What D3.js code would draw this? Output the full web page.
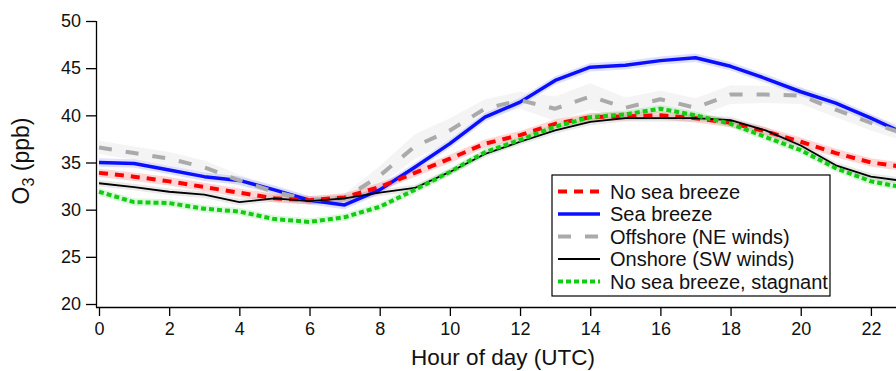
<!DOCTYPE html>
<html>
<head>
<meta charset="utf-8">
<script src="https://cdn.jsdelivr.net/npm/d3@7"></script>
<style>
  body { margin: 0; background: #fff; }
  svg { display: block; font-family: "Liberation Sans", Arial, sans-serif; }
</style>
</head>
<body>
<svg id="chart" width="896" height="371"></svg>
<script>
// hours of day (UTC)
var hours = d3.range(0, 24);
var xTicks = [0, 2, 4, 6, 8, 10, 12, 14, 16, 18, 20, 22];
var yTicks = [20, 25, 30, 35, 40, 45, 50];

// mean O3 (ppb) per hour
var noSeaBreeze = [33.9, 33.5, 33.0, 32.4, 31.8, 31.2, 31.0, 31.3, 32.4, 33.9, 35.4, 37.0,
                   37.9, 39.1, 39.8, 39.9, 40.0, 39.7, 39.2, 38.3, 37.2, 36.0, 35.0, 34.5];
var seaBreeze   = [35.0, 34.9, 34.2, 33.5, 33.1, 32.1, 31.0, 30.5, 32.1, 34.5, 37.0, 39.8,
                   41.4, 43.7, 45.1, 45.3, 45.8, 46.1, 45.2, 43.9, 42.5, 41.3, 39.7, 38.0];
var offshore    = [36.6, 36.0, 35.4, 34.5, 33.1, 31.9, 31.0, 31.2, 33.6, 36.7, 38.4, 40.7,
                   41.6, 40.7, 42.0, 40.8, 41.7, 40.8, 42.2, 42.2, 42.1, 40.6, 39.2, 38.0];
var onshore     = [32.8, 32.4, 31.9, 31.6, 30.8, 31.2, 30.9, 31.2, 31.8, 32.3, 34.0, 35.9,
                   37.2, 38.4, 39.3, 39.7, 39.7, 39.7, 39.5, 38.4, 36.8, 34.7, 33.5, 33.0];
var stagnant    = [31.9, 30.8, 30.7, 30.1, 29.8, 29.0, 28.7, 29.2, 30.3, 32.1, 34.0, 36.1,
                   37.4, 38.8, 39.8, 40.1, 40.7, 40.0, 39.1, 37.7, 36.3, 34.4, 33.0, 32.3];

// half-width of the shaded uncertainty bands (ppb)
var offshoreErr = [0.7, 0.7, 0.7, 0.7, 0.6, 0.5, 0.4, 0.5, 1.0, 1.3, 1.3, 1.0,
                   0.9, 1.3, 1.4, 1.1, 0.9, 1.0, 1.0, 0.9, 0.9, 0.8, 0.8, 0.8];
var noSeaBreezeErr = 0.45;
var seaBreezeErr = 0.45;
var onshoreErr = 0.35;
var stagnantErr = 0.4;

var series = [
  {name: "No sea breeze", values: noSeaBreeze, err: noSeaBreezeErr, color: "#ff0000", band: "#ff0000", width: 4, dash: "9,7"},
  {name: "Sea breeze", values: seaBreeze, err: seaBreezeErr, color: "#0a10ff", band: "#3340ff", width: 3.5, dash: null},
  {name: "Offshore (NE winds)", values: offshore, err: offshoreErr, color: "#aaaaaa", band: "#bbbbbb", width: 4, dash: "13,14"},
  {name: "Onshore (SW winds)", values: onshore, err: onshoreErr, color: "#000000", band: "#777777", width: 1.8, dash: null},
  {name: "No sea breeze, stagnant", values: stagnant, err: stagnantErr, color: "#11cc11", band: "#22cc22", width: 4, dash: "5,3"}
];
var drawOrder = [1, 2, 0, 3, 4];

var svg = d3.select("#chart");

var x = d3.scaleLinear().domain([0, 23]).range([99, 906]);
var y = d3.scaleLinear().domain([20, 50]).range([304, 21]);

function errAt(s, i) {
  return Array.isArray(s.err) ? s.err[i] : s.err;
}

// bands
drawOrder.forEach(function(k) {
  var s = series[k];
  var area = d3.area()
    .x(function(d, i) { return x(hours[i]); })
    .y0(function(d, i) { return y(d - errAt(s, i)); })
    .y1(function(d, i) { return y(d + errAt(s, i)); });
  svg.append("path")
    .attr("d", area(s.values))
    .attr("fill", s.band)
    .attr("fill-opacity", 0.16);
});

// lines
drawOrder.forEach(function(k) {
  var s = series[k];
  var line = d3.line()
    .x(function(d, i) { return x(hours[i]); })
    .y(function(d) { return y(d); });
  svg.append("path")
    .attr("d", line(s.values))
    .attr("fill", "none")
    .attr("stroke", s.color)
    .attr("stroke-width", s.width)
    .attr("stroke-dasharray", s.dash)
    .attr("stroke-linejoin", "round");
});

// axes
var xAxis = svg.append("g")
  .attr("transform", "translate(0,307)")
  .call(d3.axisBottom(x).tickValues(xTicks).tickSize(9).tickPadding(6).tickSizeOuter(0));
xAxis.select(".domain").attr("d", "M96,0.5H896");

var yAxis = svg.append("g")
  .attr("transform", "translate(96,0)")
  .call(d3.axisLeft(y).tickValues(yTicks).tickSize(10).tickPadding(5).tickSizeOuter(0));
yAxis.select(".domain").attr("d", "M0.5,21V307.5");

svg.selectAll(".tick text").attr("font-size", 18).attr("fill", "#111").attr("font-family", "Liberation Sans, Arial, sans-serif");
svg.selectAll(".tick line, .domain").attr("stroke", "#000").attr("stroke-width", 1.3);

// axis titles
svg.append("text")
  .attr("x", 503).attr("y", 365)
  .attr("text-anchor", "middle")
  .attr("font-size", 22.5)
  .attr("fill", "#111")
  .text("Hour of day (UTC)");

var yLab = svg.append("text")
  .attr("transform", "translate(29,161) rotate(-90)")
  .attr("text-anchor", "middle")
  .attr("font-size", 23)
  .attr("fill", "#111");
yLab.append("tspan").text("O");
yLab.append("tspan").attr("font-size", 16).attr("dy", 5).text("3");
yLab.append("tspan").attr("dy", -5).text(" (ppb)");

// legend
var legend = svg.append("g");
legend.append("rect")
  .attr("x", 552).attr("y", 175)
  .attr("width", 278).attr("height", 121)
  .attr("fill", "#fff")
  .attr("stroke", "#000")
  .attr("stroke-width", 1.2);

series.forEach(function(s, i) {
  var ry = 191.5 + i * 22.5;
  legend.append("line")
    .attr("x1", 558).attr("x2", 600)
    .attr("y1", ry).attr("y2", ry)
    .attr("stroke", s.color)
    .attr("stroke-width", s.width)
    .attr("stroke-dasharray", s.dash);
  legend.append("text")
    .attr("x", 610).attr("y", ry + 7)
    .attr("font-size", 20)
    .attr("fill", "#111")
    .text(s.name);
});
</script>
</body>
</html>
